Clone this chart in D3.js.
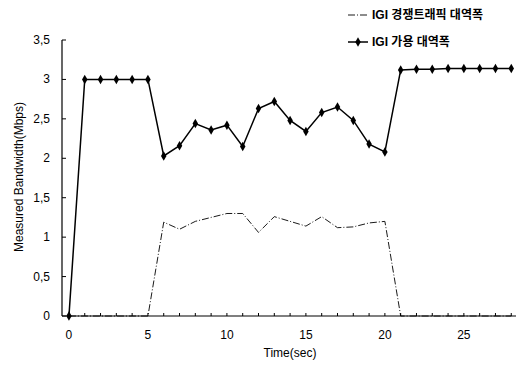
<!DOCTYPE html>
<html>
<head>
<meta charset="utf-8">
<script src="https://cdn.jsdelivr.net/npm/d3@7"></script>
<style>
    body { margin: 0; background: #fff; }
    text { font-family: Arial, "Liberation Sans", "Noto Sans CJK KR", sans-serif; fill: #000; }
</style>
</head>
<body>
<div id="chart"></div>
<script>

// time axis (sec)
var times = d3.range(0, 29);

// IGI 가용 대역폭 (available bandwidth, Mbps)
var availBw = [0, 3, 3, 3, 3, 3, 2.03, 2.16, 2.44, 2.36, 2.42, 2.15, 2.63, 2.72, 2.48,
    2.34, 2.58, 2.65, 2.48, 2.18, 2.08, 3.12, 3.13, 3.13, 3.14, 3.14, 3.14, 3.14, 3.14];

// IGI 경쟁트래픽 대역폭 (competing traffic, Mbps)
var crossBw = [0, 0, 0, 0, 0, 0, 1.19, 1.1, 1.2, 1.25, 1.3, 1.3, 1.06, 1.26, 1.2,
    1.14, 1.26, 1.12, 1.13, 1.18, 1.2, 0, 0, 0, 0, 0, 0, 0, 0];

var yTicks = [0, 0.5, 1, 1.5, 2, 2.5, 3, 3.5];
var yTickLabels = ["0", "0,5", "1", "1,5", "2", "2,5", "3", "3,5"];
var xTicks = [0, 5, 10, 15, 20, 25];

var legendNames = ["IGI 경쟁트래픽 대역폭", "IGI 가용 대역폭"];

var width = 518, height = 365;

var svg = d3.select("#chart").append("svg")
    .attr("width", width)
    .attr("height", height);

var x = d3.scaleLinear().domain([-0.44, 28.3]).range([62, 516]);
var y = d3.scaleLinear().domain([0, 3.5]).range([316, 40]);

//axes
svg.append("line")
    .attr("x1", x.range()[0]).attr("x2", x.range()[0])
    .attr("y1", y(0)).attr("y2", y(3.5))
    .attr("stroke", "#000").attr("stroke-width", 1.2);

svg.append("line")
    .attr("x1", x.range()[0]).attr("x2", x.range()[1])
    .attr("y1", y(0)).attr("y2", y(0))
    .attr("stroke", "#000").attr("stroke-width", 1.2);

// y ticks point inward
svg.selectAll("line.ytick")
    .data(yTicks)
    .enter().append("line")
    .attr("class", "ytick")
    .attr("x1", 62).attr("x2", 66)
    .attr("y1", function (d) { return y(d); })
    .attr("y2", function (d) { return y(d); })
    .attr("stroke", "#000");

svg.selectAll("text.ylab")
    .data(yTicks)
    .enter().append("text")
    .attr("class", "ylab")
    .attr("x", 50)
    .attr("y", function (d) { return y(d) + 4; })
    .attr("text-anchor", "end")
    .attr("font-size", 12)
    .text(function (d, i) { return yTickLabels[i]; });

// small ticks on time axis at every second
svg.selectAll("line.xtick")
    .data(times)
    .enter().append("line")
    .attr("class", "xtick")
    .attr("x1", function (d) { return x(d); })
    .attr("x2", function (d) { return x(d); })
    .attr("y1", y(0)).attr("y2", y(0) - 3)
    .attr("stroke", "#000");

svg.selectAll("text.xlab")
    .data(xTicks)
    .enter().append("text")
    .attr("class", "xlab")
    .attr("x", function (d) { return x(d); })
    .attr("y", 339)
    .attr("text-anchor", "middle")
    .attr("font-size", 12)
    .text(function (d) { return d; });

svg.append("text")
    .attr("x", 290).attr("y", 357)
    .attr("text-anchor", "middle")
    .attr("font-size", 12)
    .text("Time(sec)");

svg.append("text")
    .attr("transform", "translate(23,177) rotate(-90)")
    .attr("text-anchor", "middle")
    .attr("font-size", 12)
    .text("Measured Bandwidth(Mbps)");

var line = d3.line()
    .x(function (d) { return x(d[0]); })
    .y(function (d) { return y(d[1]); });

// competing traffic - thin dashed
svg.append("path")
    .datum(d3.zip(times, crossBw))
    .attr("d", line)
    .attr("fill", "none")
    .attr("stroke", "#000")
    .attr("stroke-width", 0.9)
    .attr("stroke-dasharray", "7,2,1,2");

// available bandwidth - solid with diamonds
svg.append("path")
    .datum(d3.zip(times, availBw))
    .attr("d", line)
    .attr("fill", "none")
    .attr("stroke", "#000")
    .attr("stroke-width", 1.5);

var diamond = d3.symbol().type(d3.symbolDiamond).size(26);

svg.selectAll("path.dot")
    .data(d3.zip(times, availBw))
    .enter().append("path")
    .attr("class", "dot")
    .attr("d", diamond)
    .attr("transform", function (d) { return "translate(" + x(d[0]) + "," + y(d[1]) + ")"; })
    .attr("fill", "#000");

//legend
var legend = svg.append("g").attr("transform", "translate(348,0)");

legend.append("line")
    .attr("x1", 0).attr("x2", 20).attr("y1", 15).attr("y2", 15)
    .attr("stroke", "#000").attr("stroke-width", 0.9)
    .attr("stroke-dasharray", "7,2,1,2");

legend.append("line")
    .attr("x1", 0).attr("x2", 20).attr("y1", 42).attr("y2", 42)
    .attr("stroke", "#000").attr("stroke-width", 1.5);

legend.append("path")
    .attr("d", diamond)
    .attr("transform", "translate(10,42)");

legend.selectAll("text")
    .data(legendNames)
    .enter().append("text")
    .attr("x", 24)
    .attr("y", function (d, i) { return 19 + i * 27; })
    .attr("font-size", 12)
    .attr("font-weight", "bold")
    .text(function (d) { return d; });

</script>
</body>
</html>
